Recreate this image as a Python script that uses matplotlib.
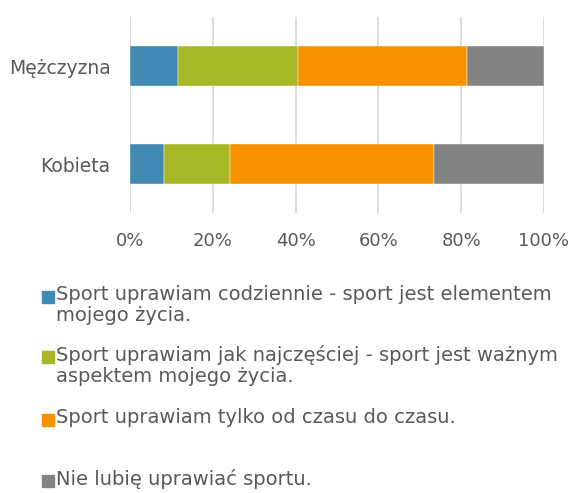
import matplotlib
matplotlib.use("Agg")
import matplotlib.pyplot as plt
from matplotlib.patches import Rectangle

# dane
kategorie = ["Kobieta", "Mężczyzna"]
codziennie = [8.3, 11.5]
najczesciej = [15.8, 29.1]
od_czasu = [49.3, 40.9]
nie_lubie = [26.6, 18.5]

etykiety = [
    "Sport uprawiam codziennie - sport jest elementem\nmojego życia.",
    "Sport uprawiam jak najczęściej - sport jest ważnym\naspektem mojego życia.",
    "Sport uprawiam tylko od czasu do czasu.",
    "Nie lubię uprawiać sportu.",
]
kolory = ["#418ab3", "#a6b727", "#f69200", "#838383"]
ticki = [0, 20, 40, 60, 80, 100]

plt.rcParams['font.family'] = ['DejaVu Sans']
szary = "#595959"

fig = plt.figure(figsize=(5.69, 4.93), dpi=100)
ax = fig.add_axes([130 / 569, 1 - 213 / 493, 414 / 569, 196 / 493])

serie = [codziennie, najczesciej, od_czasu, nie_lubie]
lewo = [0] * len(kategorie)
for wart, kol in zip(serie, kolory):
    ax.barh(range(len(kategorie)), wart, left=lewo, height=0.4, color=kol,
            edgecolor="white", linewidth=0.3, zorder=3)
    lewo = [a + b for a, b in zip(lewo, wart)]

ax.set_xlim(0, 100)
ax.set_ylim(-0.5, 1.5)
ax.set_xticks(ticks=ticki, labels=[f"{t}%" for t in ticki])
ax.set_yticks(range(len(kategorie)), labels=kategorie)
ax.grid(axis="x", color="#d9d9d9", linewidth=1.3, zorder=0)
for s in ax.spines.values():
    s.set_visible(False)
ax.tick_params(length=0, colors=szary)
ax.tick_params(axis="y", pad=14, labelsize=13.5)
ax.tick_params(axis="x", pad=14, labelsize=13)

# legenda
pozycje = [297, 357, 420, 481]
for lab, kol, y in zip(etykiety, kolory, pozycje):
    fig.add_artist(Rectangle((42 / 569, 1 - (y + 6) / 493), 12 / 569, 12 / 493,
                             transform=fig.transFigure, color=kol))
    fig.text(56 / 569, 1 - (y - 12) / 493, lab, fontsize=14, color=szary,
             va="top", ha="left", linespacing=1.15)

fig.savefig("out.png", dpi=100)
